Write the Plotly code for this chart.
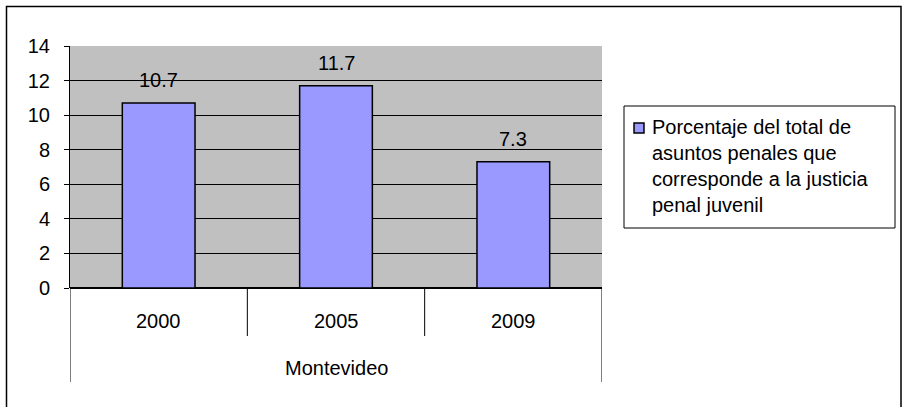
import plotly.graph_objects as go

years = ["2000", "2005", "2009"]
values = [10.7, 11.7, 7.3]
group_label = "Montevideo"
series_name = "Porcentaje del total de<br>asuntos penales que<br>corresponde a la justicia<br>penal juvenil"
y_ticks = [0, 2, 4, 6, 8, 10, 12, 14]

W, H = 902, 407
L, R, T, B = 70, 300, 46, 119
pw = W - L - R
ph = H - T - B

def px_x(p):  # page pixel -> paper x
    return (p - L) / pw

def px_y(p):  # page pixel -> paper y
    return (H - B - p) / ph

FONT = "Liberation Sans, Arial, sans-serif"
FS = 20

fig = go.Figure()
fig.add_trace(go.Bar(
    x=list(range(len(years))), y=values,
    marker=dict(color="#9999FF", line=dict(color="black", width=1.5)),
    width=0.41,
    showlegend=False, hoverinfo="skip",
))

shapes = []
# outer chart border
shapes.append(dict(type="rect", xref="paper", yref="paper",
                   x0=px_x(6.5), x1=px_x(901), y0=px_y(420), y1=px_y(6.5),
                   line=dict(color="black", width=1.5), layer="below"))
# category dividers
for i in range(len(years) + 1):
    xv = i - 0.5
    outer = i == 0 or i == len(years)
    shapes.append(dict(type="line", xref="x", yref="paper",
                       x0=xv, x1=xv, y0=0, y1=px_y(382 if outer else 336),
                       line=dict(color="black", width=1)))

annotations = []
for i, v in enumerate(values):
    annotations.append(dict(x=i, y=v, xref="x", yref="y", text=f"{v:.1f}",
                            showarrow=False, yanchor="bottom", yshift=10,
                            font=dict(family=FONT, size=FS, color="black")))
for i, yr in enumerate(years):
    annotations.append(dict(x=i, y=px_y(321), xref="x", yref="paper",
                            text=yr, showarrow=False, yanchor="middle",
                            font=dict(family=FONT, size=FS, color="black")))
annotations.append(dict(x=(len(years) - 1) / 2, y=px_y(368), xref="x", yref="paper",
                        text=group_label, showarrow=False, yanchor="middle",
                        font=dict(family=FONT, size=FS, color="black")))

# legend (custom box)
shapes.append(dict(type="rect", xref="paper", yref="paper",
                   x0=px_x(624), x1=px_x(895), y0=px_y(228), y1=px_y(106),
                   line=dict(color="black", width=1), fillcolor="white"))
shapes.append(dict(type="rect", xref="paper", yref="paper",
                   x0=px_x(634), x1=px_x(644), y0=px_y(133), y1=px_y(123),
                   line=dict(color="black", width=1.5), fillcolor="#9999FF"))
annotations.append(dict(x=px_x(650), y=px_y(114), xref="paper", yref="paper",
                        xanchor="left", yanchor="top", align="left",
                        text=series_name, showarrow=False,
                        font=dict(family=FONT, size=FS, color="black")))

fig.update_layout(
    width=W, height=H,
    margin=dict(l=L, r=R, t=T, b=B, autoexpand=False),
    paper_bgcolor="white", plot_bgcolor="#C0C0C0",
    font=dict(family=FONT, size=FS, color="black"),
    xaxis=dict(range=[-0.5, len(years) - 0.5], showticklabels=False,
               showgrid=False, zeroline=False, showline=False, ticks=""),
    yaxis=dict(range=[0, 14], tickvals=y_ticks, ticks="outside", ticklen=5,
               tickcolor="black", showgrid=True, gridcolor="black", gridwidth=1,
               zeroline=True, zerolinecolor="black", zerolinewidth=1.5,
               showline=True, linecolor="black", linewidth=1,
               ticklabelstandoff=10,
               tickfont=dict(family=FONT, size=FS, color="black")),
    shapes=shapes, annotations=annotations,
    showlegend=False,
)

fig.write_html("out.html", config={"displayModeBar": False},
               post_script="document.body.style.margin='0';document.body.style.overflow='hidden';")
